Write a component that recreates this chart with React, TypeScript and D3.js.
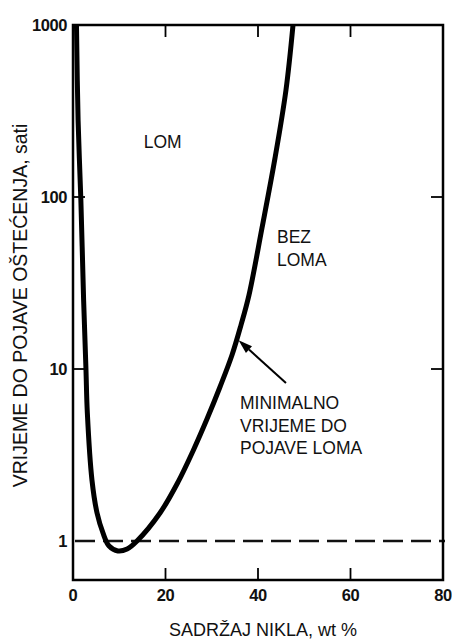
import React from "react";
import * as d3 from "d3";

// Curve: minimum time to failure vs nickel content (wt %, hours)
const leftBranchNi = [0.75, 1.1, 1.7, 2.3, 2.8, 3.1, 4.1, 5.2, 6.5, 7.8, 9.7, 11.7];
const leftBranchHours = [1000, 280, 96, 25, 10, 5.55, 2.26, 1.455, 1.11, 0.935, 0.875, 0.898];
const rightBranchNi = [13.84, 18.81, 22.7, 25.95, 28.97, 31.78, 34.38, 36.32, 38.05, 40.86, 43.68, 46.05, 47.57];
const rightBranchHours = [1, 1.455, 2.2, 3.34, 5.12, 7.86, 12.06, 18.0, 26.9, 66.0, 168.5, 419, 1000];

const xTicks = [0, 20, 40, 60, 80];
const yTicks = [1, 10, 100, 1000];
const thresholdHours = 1;

const xTitle = "SADRŽAJ NIKLA, wt %";
const yTitle = "VRIJEME DO POJAVE OŠTEĆENJA, sati";
const lomLabel = { ni: 15.3, h: 193, lines: ["LOM"] };
const bezLabel = { ni: 44.1, h: 54, lines: ["BEZ", "LOMA"] };
const minLabel = { ni: 36.1, h: 5.85, lines: ["MINIMALNO", "VRIJEME DO", "POJAVE LOMA"] };
const arrowFrom = { ni: 46.05, h: 8.29 };
const arrowTo = { ni: 35.8, h: 14.7 };

const W = 452;
const H = 640;
const left = 73, right = 443, top = 25, bottom = 580;
const font = "'Liberation Sans', Arial, Helvetica, sans-serif";

export default function App() {
  const x = d3.scaleLinear().domain([0, 80]).range([left, right]);
  const y = d3.scaleLog().domain([0.5934, 1000]).range([bottom, top]);

  const pts: [number, number][] = [];
  leftBranchNi.forEach((n, i) => pts.push([n, leftBranchHours[i]]));
  rightBranchNi.forEach((n, i) => pts.push([n, rightBranchHours[i]]));

  const line = d3
    .line<[number, number]>()
    .x((d) => x(d[0]))
    .y((d) => y(d[1]))
    .curve(d3.curveCatmullRom.alpha(0.5));

  const ax = x(arrowFrom.ni), ay = y(arrowFrom.h);
  const bx = x(arrowTo.ni), by = y(arrowTo.h);
  const ang = Math.atan2(by - ay, bx - ax);
  const hl = 14, hw = 4.5;
  const baseX = bx - hl * Math.cos(ang), baseY = by - hl * Math.sin(ang);
  const head = [
    [bx, by],
    [baseX + hw * Math.sin(ang), baseY - hw * Math.cos(ang)],
    [baseX - hw * Math.sin(ang), baseY + hw * Math.cos(ang)],
  ]
    .map((p) => p.join(","))
    .join(" ");

  const tickLen = 12;

  return (
    <svg
      width={W}
      height={H}
      style={{ position: "absolute", left: 0, top: 0, background: "#fff" }}
      fontFamily={font}
    >
      <defs>
        <clipPath id="plot">
          <rect x={left} y={top} width={right - left} height={bottom - top} />
        </clipPath>
      </defs>

      {/* threshold dashed line */}
      <line
        x1={left}
        x2={right}
        y1={y(thresholdHours)}
        y2={y(thresholdHours)}
        stroke="#111"
        strokeWidth={2.4}
        strokeDasharray="20,8"
        transform="translate(2,0)"
      />

      {/* curve */}
      <path
        d={line(pts) || ""}
        fill="none"
        stroke="#000"
        strokeWidth={5}
        strokeLinejoin="round"
        clipPath="url(#plot)"
      />

      {/* frame */}
      <rect
        x={left}
        y={top}
        width={right - left}
        height={bottom - top}
        fill="none"
        stroke="#000"
        strokeWidth={2.5}
      />

      {/* x ticks bottom and top */}
      {xTicks.slice(1, -1).map((t) => (
        <g key={"xt" + t}>
          <line x1={x(t)} x2={x(t)} y1={bottom} y2={bottom - tickLen} stroke="#000" strokeWidth={1.8} />
          <line x1={x(t)} x2={x(t)} y1={top} y2={top + tickLen} stroke="#000" strokeWidth={1.8} />
        </g>
      ))}
      {/* y ticks left and right */}
      {yTicks.slice(1, -1).map((t) => (
        <g key={"yt" + t}>
          <line x1={left} x2={left + tickLen} y1={y(t)} y2={y(t)} stroke="#000" strokeWidth={1.8} />
          <line x1={right} x2={right - tickLen} y1={y(t)} y2={y(t)} stroke="#000" strokeWidth={1.8} />
        </g>
      ))}

      {/* x tick labels */}
      {xTicks.map((t) => (
        <text
          key={"xl" + t}
          x={x(t)}
          y={601}
          textAnchor="middle"
          fontSize={16.5}
          fontWeight="bold"
          fill="#111"
          letterSpacing={-0.4}
        >
          {t}
        </text>
      ))}
      {/* y tick labels */}
      {yTicks.map((t) => (
        <text
          key={"yl" + t}
          x={67}
          y={y(t)}
          dy="0.36em"
          textAnchor="end"
          fontSize={16.5}
          fontWeight="bold"
          fill="#111"
          letterSpacing={-0.4}
        >
          {t}
        </text>
      ))}

      {/* axis titles */}
      <text x={263} y={636} textAnchor="middle" fontSize={18} fill="#111">
        {xTitle}
      </text>
      <text
        transform={`translate(27,${(top + bottom) / 2 + 3}) rotate(-90)`}
        textAnchor="middle"
        fontSize={19.5}
        fill="#111"
      >
        {yTitle}
      </text>

      {/* region labels */}
      {[lomLabel, bezLabel, minLabel].map((lab, i) => (
        <text key={"lab" + i} x={x(lab.ni)} y={y(lab.h)} fontSize={17.5} fill="#111">
          {lab.lines.map((l, j) => (
            <tspan key={j} x={x(lab.ni)} dy={j === 0 ? 0 : 22.5}>
              {l}
            </tspan>
          ))}
        </text>
      ))}

      {/* arrow */}
      <line x1={ax} y1={ay} x2={baseX} y2={baseY} stroke="#000" strokeWidth={2} />
      <polygon points={head} fill="#000" />
    </svg>
  );
}
